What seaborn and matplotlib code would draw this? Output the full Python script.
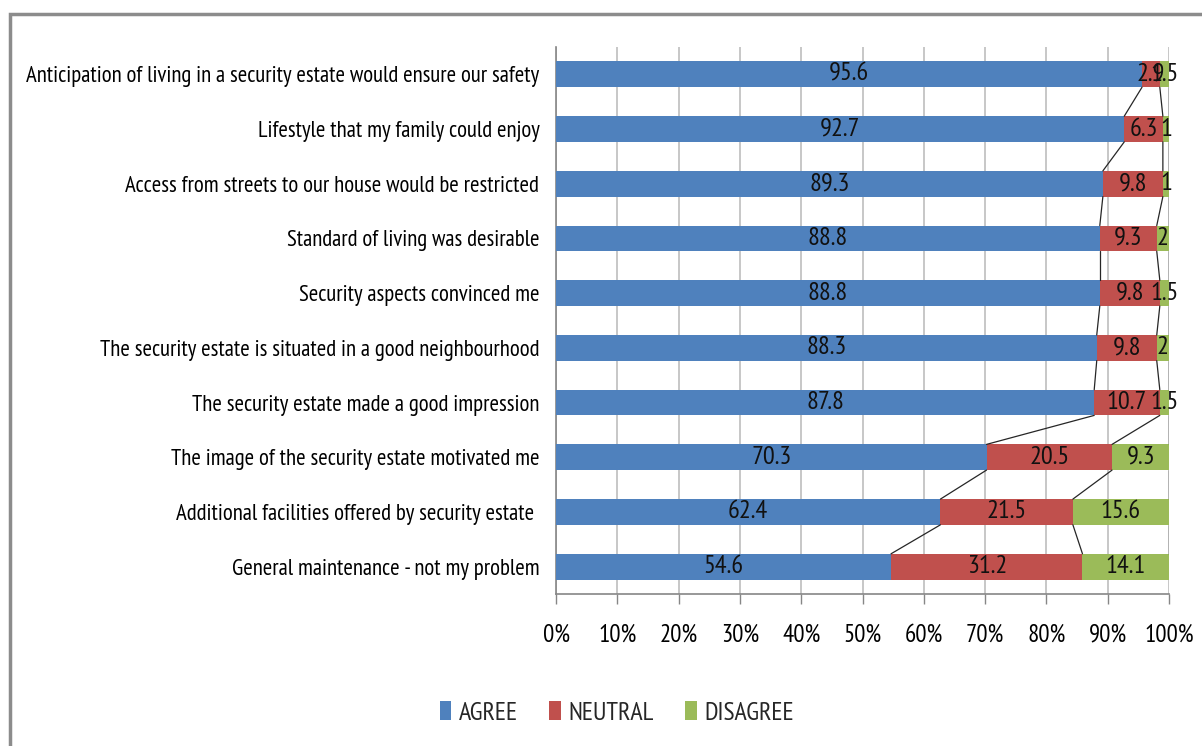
import numpy as np
import pandas as pd
import matplotlib
matplotlib.use("Agg")
import matplotlib.pyplot as plt
from matplotlib import font_manager
from matplotlib.patches import Patch, Rectangle
import seaborn as sns

statements = [
    "Anticipation of living in a security estate would ensure our safety",
    "Lifestyle that my family could enjoy",
    "Access from streets to our house would be restricted",
    "Standard of living was desirable",
    "Security aspects convinced me",
    "The security estate is situated in a good neighbourhood",
    "The security estate made a good impression",
    "The image of the security estate motivated me",
    "Additional facilities offered by security estate ",
    "General maintenance - not my problem",
]
agree = [95.6, 92.7, 89.3, 88.8, 88.8, 88.3, 87.8, 70.3, 62.4, 54.6]
neutral = [2.9, 6.3, 9.8, 9.3, 9.8, 9.8, 10.7, 20.5, 21.5, 31.2]
disagree = [1.5, 1, 1, 2, 1.5, 2, 1.5, 9.3, 15.6, 14.1]
series_names = ["AGREE", "NEUTRAL", "DISAGREE"]
xticks = [0, 10, 20, 30, 40, 50, 60, 70, 80, 90, 100]

colors = ["#4F81BD", "#C0504D", "#9BBB59"]

sns.set_style("white")
available = {f.name for f in font_manager.fontManager.ttflist}
candidates = ["Liberation Sans Narrow", "Arial Narrow", "PT Sans Narrow",
              "Archivo Narrow", "Roboto Condensed", "Pragati Narrow",
              "IBM Plex Sans Condensed", "Liberation Sans"]
chosen = next((c for c in candidates if c in available), "DejaVu Sans")
plt.rcParams["font.family"] = [chosen, "DejaVu Sans"]

a = np.array(agree, float)
n = np.array(neutral, float)
d = np.array(disagree, float)
tot = a + n + d
pa, pn, pd_ = a / tot * 100, n / tot * 100, d / tot * 100
c1 = pa
c2 = pa + pn
c3 = pa + pn + pd_

fig = plt.figure(figsize=(12.02, 7.46), dpi=100)
renderer = fig.canvas.get_renderer()


def fit_size(text, target_px, base=12.0):
    t = fig.text(0, 0, text, fontsize=base)
    w = t.get_window_extent(renderer).width
    t.remove()
    return base * target_px / w


fs_cat = fit_size(statements[0], 510)
fs_val = fit_size("95.6", 40)
fs_tick = fit_size("100%", 49)
fs_leg = fit_size("DISAGREE", 90)

ax = fig.add_axes([556 / 1202, 1 - 594 / 746, (1169 - 556) / 1202, (594 - 47) / 746])

H = 0.47
df = pd.DataFrame({"statement": statements, "c1": c1, "c2": c2, "c3": c3})
for col, colr in zip(["c3", "c2", "c1"], colors[::-1]):
    sns.barplot(data=df, x=col, y="statement", orient="h", color=colr,
                saturation=1, width=H, linewidth=0, ax=ax, zorder=3)

# series lines
for cum in (c1, c2, c3):
    for i in range(len(statements) - 1):
        ax.plot([cum[i], cum[i + 1]], [i + H / 2, i + 1 - H / 2],
                color="#262626", lw=0.9, zorder=4)

# data labels
for i in range(len(statements)):
    starts = [0, c1[i], c2[i]]
    widths = [pa[i], pn[i], pd_[i]]
    raw = [agree[i], neutral[i], disagree[i]]
    for s, w, v in zip(starts, widths, raw):
        ax.text(s + w / 2, i, f"{v:g}", ha="center", va="center",
                fontsize=fs_val, color="#111111", zorder=5)

ax.set_xlim(0, 100)
ax.set_ylim(len(statements) - 0.5, -0.5)
ax.set_xticks(xticks)
ax.set_xticklabels([f"{t}%" for t in xticks])
ax.set_xlabel("")
ax.set_ylabel("")
ax.grid(axis="x", color="#BEBEBE", lw=1.2, zorder=0)
ax.set_axisbelow(True)
for s in ["top", "right"]:
    ax.spines[s].set_visible(False)
for s in ["left", "bottom"]:
    ax.spines[s].set_color("#868686")
    ax.spines[s].set_linewidth(1.2)
ax.tick_params(axis="x", length=7, width=1, color="#868686", pad=14,
               labelsize=fs_tick, labelcolor="black", bottom=True)
ax.tick_params(axis="y", length=0, pad=12, labelsize=fs_cat, labelcolor="black")

handles = [Patch(facecolor=c, edgecolor="none") for c in colors]
fig.legend(handles, series_names, loc="center", bbox_to_anchor=(617 / 1202, 1 - 713 / 746),
           ncol=3, frameon=False, fontsize=fs_leg, handlelength=0.45, handleheight=0.75,
           handletextpad=0.3, columnspacing=1.2)

# outer frame
fig.patches.append(Rectangle((10 / 1202, -0.1), 1.2, 1 - 14 / 746 + 0.1,
                             transform=fig.transFigure, fill=False,
                             edgecolor="#8C8C8C", lw=2.5, zorder=0))

fig.savefig("out.png", dpi=100)
